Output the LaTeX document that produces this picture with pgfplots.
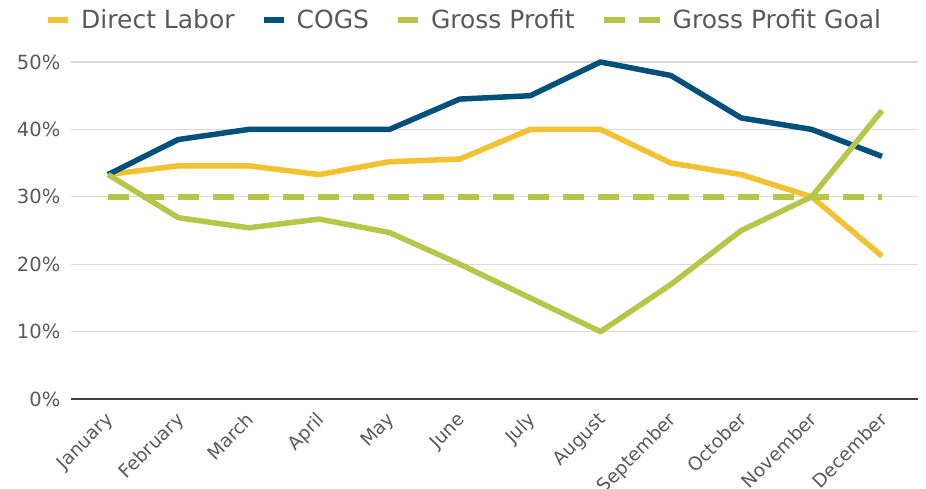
\documentclass[border=0pt]{standalone}
\usepackage{pgfplots}
\pgfplotsset{compat=1.18}
\usepackage{fontspec}
\setmainfont{DejaVu Sans}

\definecolor{labor}{RGB}{242,194,50}
\definecolor{cogs}{RGB}{0,80,122}
\definecolor{profit}{RGB}{181,198,72}
\definecolor{txt}{RGB}{89,89,89}
\definecolor{gridc}{RGB}{217,217,217}
\definecolor{axisln}{RGB}{64,64,64}

\begin{document}
\begin{tikzpicture}
\path[use as bounding box] (-71bp,-90bp) rectangle (855bp,399bp);
\begin{axis}[
    at={(0,0)}, anchor=south west,
    scale only axis,
    width=847bp, height=337bp,
    xmin=-0.526, xmax=11.512,
    ymin=0, ymax=50,
    clip=false,
    axis x line*=bottom, axis y line*=left,
    x axis line style={-, draw=axisln, line width=1.5bp},
    y axis line style={draw=none},
    major tick length=0pt,
    tick style={draw=none},
    ytick={0,10,20,30,40,50},
    yticklabels={0\%,10\%,20\%,30\%,40\%,50\%},
    xtick={0,...,11},
    xticklabels={January,February,March,April,May,June,July,August,September,October,November,December},
    xmajorgrids=false,
    ymajorgrids=true,
    y grid style={draw=gridc, line width=1.3bp},
    ticklabel style={text=txt},
    yticklabel style={font=\fontsize{19.5bp}{23bp}\selectfont, inner sep=0pt, xshift=-10.5bp},
    xticklabel style={font=\fontsize{18.5bp}{22bp}\selectfont, rotate=45, anchor=north east, inner sep=0pt, xshift=-11bp, yshift=-6bp},
    legend style={
        at={(0.4630,1.1255)}, anchor=center,
        draw=none, fill=none,
        font=\fontsize{25bp}{30bp}\selectfont, text=txt,
        legend columns=-1,
        /tikz/every even column/.append style={column sep=26bp},
        /tikz/every odd column/.append style={column sep=10bp},
        nodes={inner sep=0pt},
    },
    every axis plot/.append style={line width=5.5bp, line join=round},
]

\addplot[labor, legend image code/.code={\draw[labor, line width=6bp] (0bp,0bp) -- (20bp,0bp);}]
    coordinates {(0,33.3) (1,34.6) (2,34.6) (3,33.3) (4,35.2) (5,35.6) (6,40.0) (7,40.0) (8,35.0) (9,33.3) (10,30.0) (11,21.2)};
\addlegendentry{Direct Labor}

\addplot[cogs, legend image code/.code={\draw[cogs, line width=6bp] (0bp,0bp) -- (20bp,0bp);}]
    coordinates {(0,33.3) (1,38.5) (2,40.0) (3,40.0) (4,40.0) (5,44.5) (6,45.0) (7,50.0) (8,48.0) (9,41.7) (10,40.0) (11,36.0)};
\addlegendentry{COGS}

\addplot[profit, legend image code/.code={\draw[profit, line width=6bp] (0bp,0bp) -- (20bp,0bp);}]
    coordinates {(0,33.3) (1,26.9) (2,25.4) (3,26.7) (4,24.7) (5,20.0) (6,15.0) (7,10.0) (8,17.0) (9,25.0) (10,30.0) (11,42.8)};
\addlegendentry{Gross Profit}

\addplot[profit, dash pattern=on 21bp off 14bp, legend image code/.code={\draw[profit, line width=6bp] (0bp,0bp) -- (21bp,0bp) (35bp,0bp) -- (56bp,0bp);}]
    coordinates {(0,30) (1,30) (2,30) (3,30) (4,30) (5,30) (6,30) (7,30) (8,30) (9,30) (10,30) (11,30)};
\addlegendentry{Gross Profit Goal}

\end{axis}
\end{tikzpicture}
\end{document}
